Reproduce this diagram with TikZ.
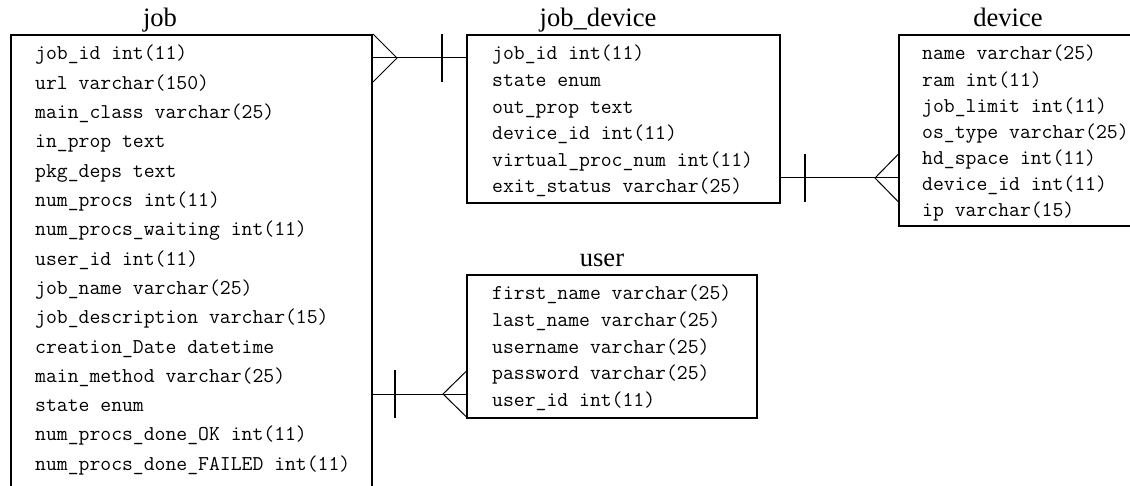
\documentclass[tikz,border=0pt]{standalone}
\usepackage{fontspec}
\setmainfont{Liberation Serif}
\usetikzlibrary{calc}
\begin{document}
\begin{tikzpicture}[x=1pt,y=-1pt,
  tbl/.style={draw=black, line width=2pt, rectangle, inner sep=0pt, anchor=north west},
  attr/.style={font=\fontsize{21.1}{22}\selectfont\ttfamily, anchor=base west, inner sep=0pt},
  ttl/.style={font=\fontsize{26.6}{30}\selectfont, anchor=base, inner sep=0pt},
  rel/.style={line width=1pt},
  barline/.style={line width=2pt},
]
\useasboundingbox (0,0) rectangle (1130,486);

% tables
\node[tbl, minimum width=361pt, minimum height=500pt] (job) at (10,34) {};
\node[tbl, minimum width=313pt, minimum height=168pt] (jd) at (466,34) {};
\node[tbl, minimum width=260pt, minimum height=191pt] (dev) at (898,34) {};
\node[tbl, minimum width=290pt, minimum height=143pt] (usr) at (466,274) {};

% titles
\node[ttl] (tjob) at (160,27) {job};
\node[ttl] (tjd) at (598,27) {job\_device};
\node[ttl] (tdev) at (1008,27) {device};
\node[ttl] (tusr) at (602,267) {user};

% attributes
\foreach \t [count=\i] in {job\_id int(11), url varchar(150), main\_class varchar(25),
  in\_prop text, pkg\_deps text, num\_procs int(11), num\_procs\_waiting int(11),
  user\_id int(11), job\_name varchar(25), job\_description varchar(15),
  creation\_Date datetime, main\_method varchar(25), state enum,
  num\_procs\_done\_OK int(11), num\_procs\_done\_FAILED int(11)}
  \node[attr] (job-r\i) at (35,{60+29.3*(\i-1)}) {\t};

\foreach \t [count=\i] in {job\_id int(11), state enum, out\_prop text,
  device\_id int(11), virtual\_proc\_num int(11), exit\_status varchar(25)}
  \node[attr] (jd-r\i) at (492,{60+26.6*(\i-1)}) {\t};

\foreach \t [count=\i] in {name varchar(25), ram int(11), job\_limit int(11),
  os\_type varchar(25), hd\_space int(11), device\_id int(11), ip varchar(15)}
  \node[attr] (dev-r\i) at (922,{60+26.1*(\i-1)}) {\t};

\foreach \t [count=\i] in {first\_name varchar(25), last\_name varchar(25),
  username varchar(25), password varchar(25), user\_id int(11)}
  \node[attr] (usr-r\i) at (492,{300+26.5*(\i-1)}) {\t};

% job (many) -- job_device (one)
\path (job.north east) ++(0,24) coordinate (jA);
\path (jd.north west) ++(0,24) coordinate (jdA);
\draw[rel] (jA) -- (jdA);
\draw[rel] ($(jA)+(0,-24)$) -- ($(jA)+(24,0)$) -- ($(jA)+(0,24)$);
\draw[barline] ($(jdA)+(-24,-24)$) -- ($(jdA)+(-24,24)$);

% job_device (one) -- device (many)
\path (jd.north east) ++(0,144) coordinate (jdB);
\path (dev.north west) ++(0,144) coordinate (devB);
\draw[rel] (jdB) -- (devB);
\draw[barline] ($(jdB)+(24,-24)$) -- ($(jdB)+(24,24)$);
\draw[rel] ($(devB)+(0,-23.5)$) -- ($(devB)+(-23,0)$) -- ($(devB)+(0,23.5)$);

% job (one) -- user (many)
\path (job.north east) ++(0,360) coordinate (jC);
\path (usr.north west) ++(0,120) coordinate (usrC);
\draw[rel] (jC) -- (usrC);
\draw[barline] ($(jC)+(22,-24)$) -- ($(jC)+(22,24)$);
\draw[rel] ($(usrC)+(0,-22.5)$) -- ($(usrC)+(-23,0)$) -- ($(usrC)+(0,22.5)$);
\end{tikzpicture}
\end{document}
